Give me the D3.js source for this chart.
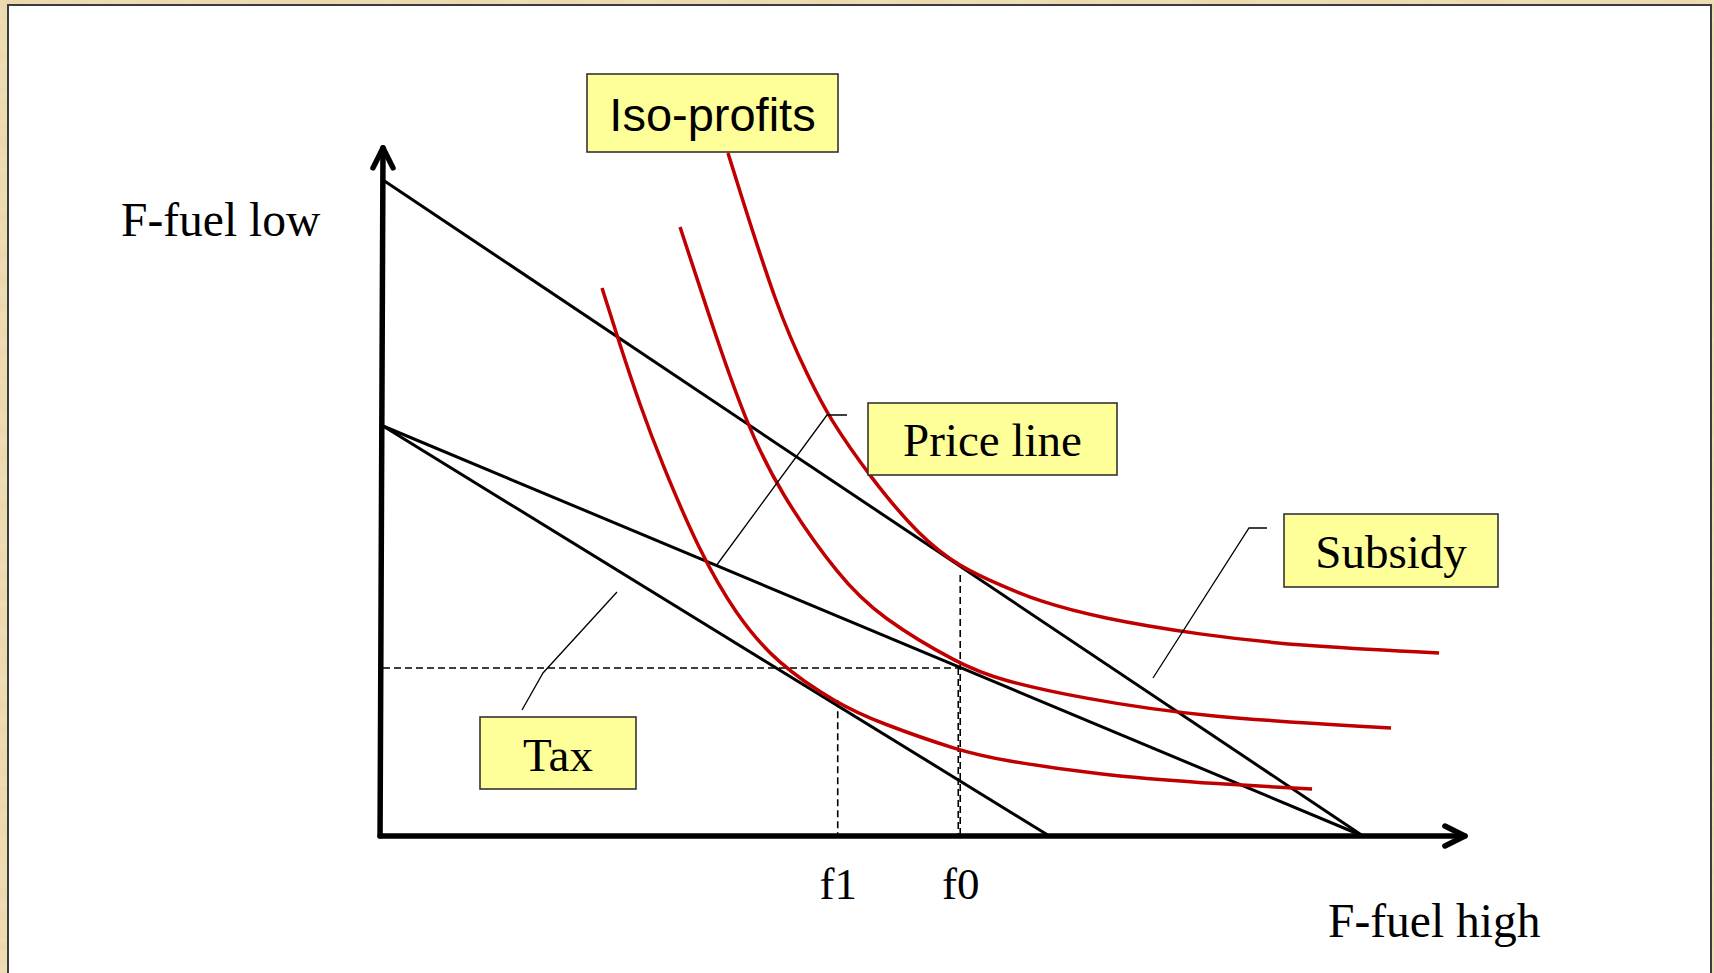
<!DOCTYPE html>
<html>
<head>
<meta charset="utf-8">
<script src="https://cdn.jsdelivr.net/npm/d3@7"></script>
<style>
  html, body { margin: 0; padding: 0; background: #EAD6A8; overflow: hidden; }
  svg { display: block; }
</style>
</head>
<body>
<svg id="chart" width="1714" height="973"></svg>
<script>
// ---------------- DATA (abstract diagram units) ----------------
const axisEnds = { x: 11.04, y: 10.49 };           // arrow tips of the two axes
const priceLineHigh = [[0, 10], [10, 0]];          // upper budget / price line
const priceLineSubsidy = [[0, 6.25], [10, 0]];     // pivoted line (subsidy)
const priceLineTax = [[0, 6.25], [6.8, 0]];        // pivoted line (tax)

const isoProfitLow = [
  [2.235, 8.354], [2.418, 7.485], [2.622, 6.570], [2.827, 5.747], [3.235, 4.314], [3.600, 3.380],
  [4.010, 2.640], [4.643, 2.010], [5.071, 1.723], [5.888, 1.296], [6.296, 1.159], [7.316, 0.930],
  [8.337, 0.808], [9.480, 0.716]
];
const isoProfitMid = [
  [3.031, 9.284], [3.408, 7.561], [3.720, 6.250], [4.051, 5.230], [4.663, 3.930], [5.071, 3.338],
  [5.888, 2.610], [6.296, 2.378], [7.112, 2.104], [8.337, 1.814], [10.286, 1.646]
];
const isoProfitHigh = [
  [3.520, 10.412], [4.031, 7.973], [4.357, 6.951], [4.541, 6.402], [4.969, 5.473],
  [5.480, 4.558], [5.888, 4.101], [6.296, 3.826], [6.684, 3.582], [7.316, 3.323],
  [8.337, 3.067], [9.357, 2.896], [10.776, 2.790]
];

const f0 = 5.89, f1 = 4.64, yStar = 2.56;
const dashedSegments = [
  [[0, yStar], [f0, yStar]],
  [[f0, 3.98], [f0, 0]],
  [[f0 - 0.02, yStar], [f0 - 0.02, 0]],
  [[f1, 2.07], [f1, 0]]
];
const tickValues = [f1, f0];
const tickLabels = ["f1", "f0"];

const axisTitles = ["F-fuel low", "F-fuel high"];
const calloutTexts = ["Iso-profits", "Price line", "Subsidy", "Tax"];

// ---------------- LAYOUT ----------------
const W = 1714, H = 973;
const x = d3.scaleLinear().domain([0, 10]).range([383, 1363]);
const y = d3.scaleLinear().domain([0, 10]).range([836, 180]);

const svg = d3.select("#chart");

// parchment background texture
const defs = svg.append("defs");
const filt = defs.append("filter").attr("id", "paper").attr("x", 0).attr("y", 0).attr("width", "100%").attr("height", "100%");
filt.append("feTurbulence").attr("type", "fractalNoise").attr("baseFrequency", "0.02 0.08").attr("numOctaves", 3).attr("seed", 4).attr("result", "n");
filt.append("feColorMatrix").attr("in", "n").attr("type", "matrix")
  .attr("values", "0 0 0 0 0.93  0 0 0 0 0.85  0 0 0 0 0.68  0 0 0 0.9 -0.25");
svg.append("rect").attr("width", W).attr("height", H).attr("fill", "#EBD8AC");
svg.append("rect").attr("width", W).attr("height", H).attr("filter", "url(#paper)").attr("opacity", 0.6);

// white panel
svg.append("rect")
  .attr("x", 8).attr("y", 5).attr("width", 1703).attr("height", 1000)
  .attr("fill", "#ffffff").attr("stroke", "#3c3c3c").attr("stroke-width", 2);

const g = svg.append("g");

const straight = d3.line().x(d => x(d[0])).y(d => y(d[1]));
const smooth = d3.line().x(d => x(d[0])).y(d => y(d[1])).curve(d3.curveBasis);

// dashed guides
g.selectAll("path.dash").data(dashedSegments).join("path")
  .attr("class", "dash")
  .attr("d", straight)
  .attr("fill", "none").attr("stroke", "#000").attr("stroke-width", 1.6)
  .attr("stroke-dasharray", "7,4");

// price lines
g.selectAll("path.price").data([priceLineHigh, priceLineSubsidy, priceLineTax]).join("path")
  .attr("class", "price")
  .attr("d", straight)
  .attr("fill", "none").attr("stroke", "#000").attr("stroke-width", 3);

// iso-profit curves
g.selectAll("path.iso").data([isoProfitLow, isoProfitMid, isoProfitHigh]).join("path")
  .attr("class", "iso")
  .attr("d", smooth)
  .attr("fill", "none").attr("stroke", "#C00000").attr("stroke-width", 3.5);

// axes lines with arrowheads
const axG = g.append("g").attr("stroke", "#000").attr("stroke-width", 5.5)
  .attr("fill", "none").attr("stroke-linecap", "round").attr("stroke-linejoin", "round");
axG.append("path").attr("d", straight([[-0.03, 0], [0, axisEnds.y]]));
axG.append("path").attr("d", straight([[-0.03, 0], [axisEnds.x, 0]]));
axG.append("path").attr("d", `M${x(0) - 10},${y(axisEnds.y) + 20}L${x(0)},${y(axisEnds.y)}L${x(0) + 10},${y(axisEnds.y) + 20}`);
axG.append("path").attr("d", `M${x(axisEnds.x) - 20},${y(0) - 10}L${x(axisEnds.x)},${y(0)}L${x(axisEnds.x) - 20},${y(0) + 10}`);

// f1 / f0 tick labels via d3 axis
const xAxis = d3.axisBottom(x).tickValues(tickValues).tickSize(0).tickPadding(31)
  .tickFormat((d, i) => tickLabels[i]);
const xa = g.append("g").attr("transform", `translate(0,${y(0)})`).call(xAxis);
xa.select(".domain").remove();
xa.selectAll("text").attr("font-family", "'Liberation Serif', 'Times New Roman', serif")
  .attr("font-size", 45).attr("fill", "#000");

// axis titles
const serif = "'Liberation Serif', 'Times New Roman', serif";
svg.append("text").attr("x", 121).attr("y", 236).text(axisTitles[0])
  .attr("font-family", serif).attr("font-size", 47.5).attr("fill", "#000");
svg.append("text").attr("x", 1328).attr("y", 937).text(axisTitles[1])
  .attr("font-family", serif).attr("font-size", 47.5).attr("fill", "#000");

// leader lines
const leaders = [
  [[847, 415], [827, 415], [716, 566]],
  [[1267, 528], [1249, 528], [1153, 678]],
  [[617, 592], [543, 673], [522, 710]]
];
svg.selectAll("path.leader").data(leaders).join("path")
  .attr("class", "leader")
  .attr("d", d => d3.line()(d))
  .attr("fill", "none").attr("stroke", "#000").attr("stroke-width", 1.3);

// callout boxes
const boxes = [
  { cx: 712.5, cy: 113, w: 251, h: 78, font: "'Liberation Sans', Arial, sans-serif", dy: 18 },
  { cx: 992.5, cy: 439, w: 249, h: 72, font: serif, dy: 17 },
  { cx: 1391, cy: 550.5, w: 214, h: 73, font: serif, dy: 17.5 },
  { cx: 558, cy: 753, w: 156, h: 72, font: serif, dy: 18 }
];
boxes.forEach((b, i) => {
  svg.append("rect")
    .attr("x", b.cx - b.w / 2).attr("y", b.cy - b.h / 2).attr("width", b.w).attr("height", b.h)
    .attr("fill", "#FFFF99").attr("stroke", "#333").attr("stroke-width", 1.6);
  svg.append("text")
    .attr("x", b.cx).attr("y", b.cy + b.dy).attr("text-anchor", "middle")
    .attr("font-family", b.font).attr("font-size", 47).attr("fill", "#000")
    .text(calloutTexts[i]);
});
</script>
</body>
</html>
